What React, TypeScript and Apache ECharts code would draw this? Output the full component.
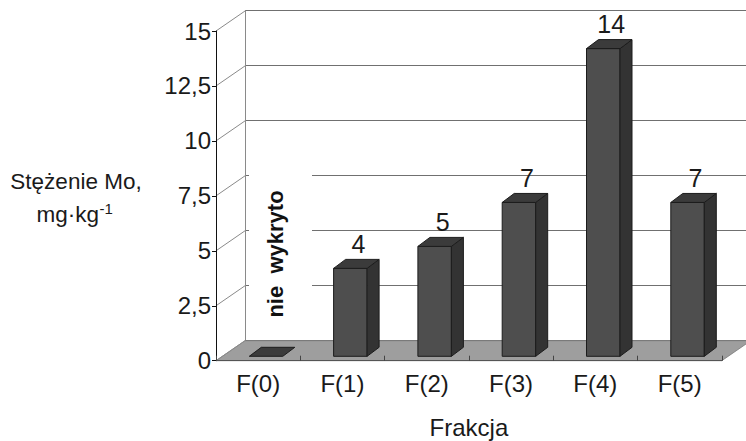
import React, { useEffect, useRef } from "react";
import * as echarts from "echarts";

const categories = ["F(0)", "F(1)", "F(2)", "F(3)", "F(4)", "F(5)"];
const values = [0, 4, 5, 7, 14, 7];
const yTicks = [0, 2.5, 5, 7.5, 10, 12.5, 15];
const xTitle = "Frakcja";
const yTitle1 = "Stężenie Mo,";
const yTitle2 = "mg·kg";
const yTitle2Sup = "-1";
const noteText = "nie  wykryto";

const FONT = '"Liberation Sans", Arial, Helvetica, sans-serif';
const DEPTH_X = 29;
const DEPTH_Y = -20;

export default function App() {
  const ref = useRef<HTMLDivElement>(null);

  useEffect(() => {
    if (!ref.current) return;
    const chart = echarts.init(ref.current, null, { renderer: "svg" });

    const option: any = {
      animation: false,
      backgroundColor: "#ffffff",
      grid: [
        { left: 216, top: 31, width: 505.8, height: 329.7, containLabel: false, outerBoundsMode: "none" },
        { left: 245, top: 10.7, right: 0, height: 330, containLabel: false, outerBoundsMode: "none" },
      ],
      xAxis: [
        {
          gridIndex: 0,
          type: "category",
          data: categories,
          z: 5,
          axisLine: { show: true, lineStyle: { color: "#555555", width: 1 } },
          axisTick: { show: true, inside: true, length: 5, lineStyle: { color: "#444444" } },
          axisLabel: { interval: 0, fontSize: 24, margin: 11, color: "#1a1a1a", fontFamily: FONT },
          splitLine: { show: false },
          name: xTitle,
          nameLocation: "middle",
          nameGap: 55,
          nameTextStyle: { fontSize: 24, color: "#1a1a1a", fontFamily: FONT },
        },
        { gridIndex: 1, type: "value", min: 0, max: 1, show: false },
      ],
      yAxis: [
        {
          gridIndex: 0,
          type: "value",
          min: 0,
          max: 15,
          interval: 2.5,
          z: 5,
          axisLine: { show: true, lineStyle: { color: "#111111", width: 1 } },
          axisTick: { show: true, length: 4, lineStyle: { color: "#111111" } },
          splitLine: { show: false },
          axisLabel: {
            fontSize: 24,
            margin: 5,
            color: "#1a1a1a",
            fontFamily: FONT,
            formatter: (v: number) => String(v).replace(".", ","),
          },
        },
        {
          gridIndex: 1,
          type: "value",
          min: 0,
          max: 15,
          interval: 2.5,
          axisLine: { show: true, lineStyle: { color: "#8a8a8a", width: 1 } },
          axisTick: { show: false },
          axisLabel: { show: false },
          splitLine: { show: true, lineStyle: { color: "#707070", width: 1 } },
        },
      ],
      series: [
        {
          type: "custom",
          name: "floor",
          xAxisIndex: 0,
          yAxisIndex: 0,
          z: 1,
          silent: true,
          data: [[0, 0]],
          encode: { x: 0, y: 1 },
          renderItem: (params: any, api: any) => {
            const cs = params.coordSys;
            const y0 = api.coord([0, 0])[1];
            const x0 = cs.x;
            const x1 = cs.x + cs.width;
            return {
              type: "polygon",
              shape: {
                points: [
                  [x0, y0],
                  [x1, y0],
                  [x1 + DEPTH_X, y0 + DEPTH_Y],
                  [x0 + DEPTH_X, y0 + DEPTH_Y],
                ],
              },
              style: { fill: "#9e9e9e", stroke: "#7a7a7a", lineWidth: 0.8 },
            };
          },
        },
        {
          type: "custom",
          name: "depthLines",
          xAxisIndex: 0,
          yAxisIndex: 0,
          z: 1,
          silent: true,
          data: yTicks.map((t) => [0, t]),
          encode: { x: 0, y: 1 },
          renderItem: (params: any, api: any) => {
            const cs = params.coordSys;
            const y = api.coord([0, api.value(1)])[1];
            const x = cs.x;
            return {
              type: "line",
              shape: { x1: x, y1: y, x2: x + DEPTH_X, y2: y + DEPTH_Y },
              style: { stroke: "#8a8a8a", lineWidth: 1 },
            };
          },
        },
        {
          type: "custom",
          name: "bars",
          xAxisIndex: 0,
          yAxisIndex: 0,
          z: 3,
          data: values.map((v, i) => [i, v]),
          encode: { x: 0, y: 1 },
          renderItem: (params: any, api: any) => {
            const i = api.value(0);
            const v = api.value(1);
            const base = api.coord([i, 0]);
            const topP = api.coord([i, v]);
            const cx = base[0] + 7.9;
            const w = 33.5;
            const L = cx - w / 2;
            const R = cx + w / 2;
            const B = base[1] - 4.4;
            const T = topP[1] - 4.4;
            const dx = 12;
            const dy = -9;
            const stroke = "#1c1c1c";
            const children: any[] = [];
            if (v > 0) {
              children.push({
                type: "polygon",
                shape: { points: [[L, B], [R, B], [R, T], [L, T]] },
                style: { fill: "#4e4e4e", stroke, lineWidth: 1 },
              });
              children.push({
                type: "polygon",
                shape: { points: [[R, B], [R + dx, B + dy], [R + dx, T + dy], [R, T]] },
                style: { fill: "#333333", stroke, lineWidth: 1 },
              });
            }
            children.push({
              type: "polygon",
              shape: { points: [[L, T], [R, T], [R + dx, T + dy], [L + dx, T + dy]] },
              style: { fill: "#3b3b3b", stroke, lineWidth: 1 },
            });
            if (v > 0) {
              children.push({
                type: "text",
                style: {
                  text: String(v),
                  x: cx + dx / 2 + 2,
                  y: T + dy / 2 - 20,
                  align: "center",
                  verticalAlign: "middle",
                  fontSize: 25,
                  fontFamily: FONT,
                  fill: "#1a1a1a",
                },
              });
            }
            return { type: "group", children };
          },
        },
      ],
      graphic: [
        {
          type: "rect",
          z: 10,
          shape: { x: 249, y: 166, width: 63, height: 166 },
          style: { fill: "#ffffff" },
        },
        {
          type: "text",
          z: 11,
          x: 275,
          y: 254,
          rotation: Math.PI / 2,
          style: {
            text: noteText,
            align: "center",
            verticalAlign: "middle",
            fontSize: 22,
            fontWeight: "bold",
            fontFamily: FONT,
            fill: "#111111",
          },
        },
        {
          type: "text",
          z: 11,
          x: 76,
          y: 181,
          style: {
            text: yTitle1,
            align: "center",
            verticalAlign: "middle",
            fontSize: 22.5,
            fontFamily: FONT,
            fill: "#1a1a1a",
          },
        },
        {
          type: "text",
          z: 11,
          x: 36.5,
          y: 214,
          style: {
            text: yTitle2,
            align: "left",
            verticalAlign: "middle",
            fontSize: 22.5,
            fontFamily: FONT,
            fill: "#1a1a1a",
          },
        },
        {
          type: "text",
          z: 11,
          x: 99.5,
          y: 208,
          style: {
            text: yTitle2Sup,
            align: "left",
            verticalAlign: "middle",
            fontSize: 15,
            fontFamily: FONT,
            fill: "#1a1a1a",
          },
        },
      ],
    };

    chart.setOption(option);
    return () => {
      chart.dispose();
    };
  }, []);

  return (
    <div
      ref={ref}
      style={{ position: "absolute", left: 0, top: 0, width: 746, height: 441 }}
    />
  );
}
